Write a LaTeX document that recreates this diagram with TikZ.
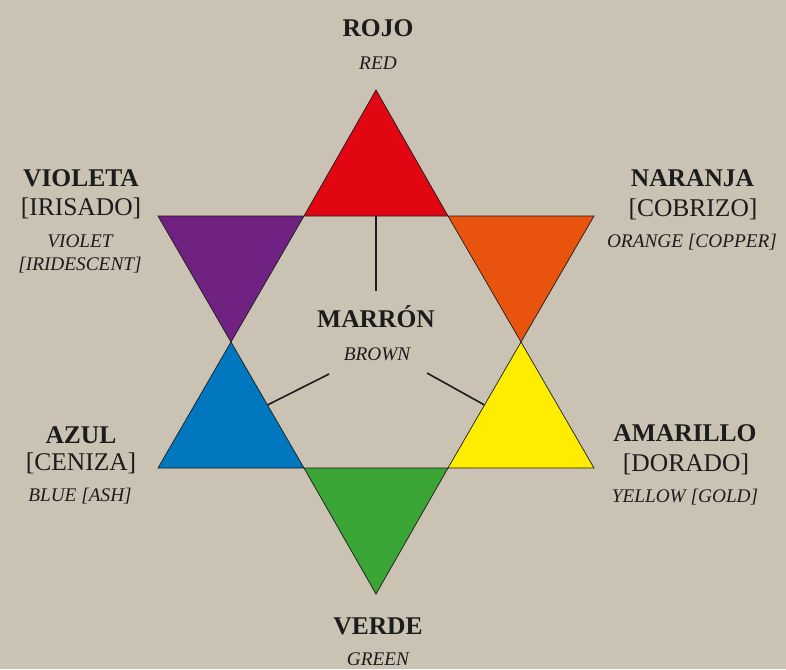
\documentclass[tikz,border=0pt]{standalone}
\usepackage{fontspec}
\setmainfont{Liberation Serif}
\definecolor{bg}{RGB}{202,194,178}
\definecolor{cred}{RGB}{226,6,19}
\definecolor{corange}{RGB}{232,83,14}
\definecolor{cyellow}{RGB}{255,237,0}
\definecolor{cgreen}{RGB}{58,165,53}
\definecolor{cblue}{RGB}{0,119,190}
\definecolor{cviolet}{RGB}{111,34,130}
\definecolor{ink}{RGB}{28,28,28}
\begin{document}
\begin{tikzpicture}[x=1pt,y=-1pt,
  tri/.style={draw=ink, line width=0.7pt, line join=miter},
  conn/.style={draw=ink, line width=1.6pt},
  boldlbl/.style={font=\fontsize{25.5}{28}\selectfont\bfseries, text=ink, anchor=base, inner sep=0pt},
  reglbl/.style={font=\fontsize{25.5}{28}\selectfont, text=ink, anchor=base, inner sep=0pt},
  itlbl/.style={font=\fontsize{19.3}{22}\selectfont\itshape, text=ink, anchor=base, inner sep=0pt}]
\fill[bg] (0,0) rectangle (786,669);
\useasboundingbox (0,0) rectangle (786,669);
% star points
\coordinate (top) at (376,90);
\coordinate (ul) at (304,216);
\coordinate (ur) at (448,216);
\coordinate (vl) at (158,216);
\coordinate (or) at (594,216);
\coordinate (lft) at (231,342);
\coordinate (rgt) at (521,342);
\coordinate (bl) at (158,468);
\coordinate (ll) at (304,468);
\coordinate (lr) at (448,468);
\coordinate (br) at (594,468);
\coordinate (bot) at (376,594);
% triangles
\filldraw[tri, fill=cred] (top) -- (ur) -- (ul) -- cycle;
\filldraw[tri, fill=cviolet] (vl) -- (ul) -- (lft) -- cycle;
\filldraw[tri, fill=corange] (ur) -- (or) -- (rgt) -- cycle;
\filldraw[tri, fill=cblue] (lft) -- (ll) -- (bl) -- cycle;
\filldraw[tri, fill=cyellow] (rgt) -- (br) -- (lr) -- cycle;
\filldraw[tri, fill=cgreen] (ll) -- (lr) -- (bot) -- cycle;
% connectors
\coordinate (mR) at (376,216);
\coordinate (iR) at (376,291);
\coordinate (mB) at (267.5,405);
\coordinate (iB) at (329,374);
\coordinate (mY) at (484.5,405);
\coordinate (iY) at (427,373);
\draw[conn] (mR) -- (iR);
\draw[conn] (mB) -- (iB);
\draw[conn] (mY) -- (iY);
% labels
\node[boldlbl] (rojo) at (378,37) {ROJO};
\node[itlbl] (red) at (378,69) {RED};
\node[boldlbl] (violeta) at (81,186) {VIOLETA};
\node[reglbl] (irisado) at (81,215) {[IRISADO]};
\node[itlbl] (violet) at (80,247) {VIOLET};
\node[itlbl] (irid) at (80,270) {[IRIDESCENT]};
\node[boldlbl] (naranja) at (692.5,186) {NARANJA};
\node[reglbl] (cobrizo) at (693,216) {[COBRIZO]};
\node[itlbl] (orange) at (692,247) {ORANGE [COPPER]};
\node[boldlbl] (marron) at (376,327) {MARRÓN};
\node[itlbl] (brown) at (377,360) {BROWN};
\node[boldlbl] (azul) at (81,443) {AZUL};
\node[reglbl] (ceniza) at (81,470) {[CENIZA]};
\node[itlbl] (blue) at (80,501) {BLUE [ASH]};
\node[boldlbl] (amarillo) at (685,441) {AMARILLO};
\node[reglbl] (dorado) at (686,471) {[DORADO]};
\node[itlbl] (yellow) at (685,502) {YELLOW [GOLD]};
\node[boldlbl] (verde) at (378,634) {VERDE};
\node[itlbl] (green) at (378,665) {GREEN};
\end{tikzpicture}
\end{document}
